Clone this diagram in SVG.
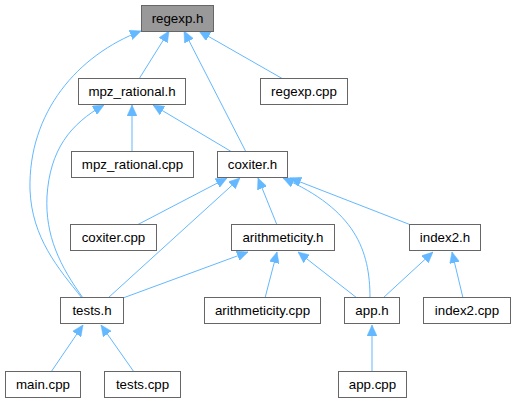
<svg xmlns="http://www.w3.org/2000/svg" width="515" height="403" viewBox="0 0 515 403">
<defs>
<style>
.n rect{fill:#fff;stroke:#666;stroke-width:1}
.n.hl rect{fill:#999}
.n text{font-family:"Liberation Sans",Arial,sans-serif;font-size:13.3px;fill:#000;text-anchor:middle}
#edges path{fill:none;stroke:#63b8ff;stroke-width:1;marker-end:url(#ah)}
</style>
<marker id="ah" markerUnits="userSpaceOnUse" markerWidth="11" markerHeight="10" viewBox="0 0 11 10" refX="11" refY="5" orient="auto">
<path d="M0,0 L11,5 L0,10 Z" fill="#63b8ff" stroke="#63b8ff" stroke-width="0.5"/>
</marker>
</defs>
<rect width="515" height="403" fill="#fff"/>
<g id="edges">
<path d="M139,79 L169,31"/>
<path d="M246,152 L184,31"/>
<path d="M283,79 L199,31"/>
<path d="M82,298 C58,268 32,238 30,190 C28,112 78,55 141,31"/>
<path d="M83,298 C60,266 45,236 47,196 C50,150 70,124 104,105"/>
<path d="M132,152 L132,105"/>
<path d="M232,152 L153,105"/>
<path d="M137,225 L227,178"/>
<path d="M108,298 L240,178"/>
<path d="M277,225 L258,178"/>
<path d="M370,298 C370,250 355,210 283,178"/>
<path d="M411,225 L290,178"/>
<path d="M123,298 L248,252"/>
<path d="M265,298 L277,252"/>
<path d="M357,298 L298,252"/>
<path d="M383,298 L433,252"/>
<path d="M463,298 L452,252"/>
<path d="M51,372 L83,325"/>
<path d="M134,372 L101,325"/>
<path d="M372,372 L372,325"/>
</g>
<g id="regexp_h" class="n hl"><rect x="141.5" y="5.5" width="72" height="26"/><text x="177.5" y="23">regexp.h</text></g>
<g id="mpz_rational_h" class="n"><rect x="78.5" y="78.5" width="107" height="26"/><text x="132" y="96">mpz_rational.h</text></g>
<g id="regexp_cpp" class="n"><rect x="260.5" y="78.5" width="87" height="26"/><text x="304" y="96">regexp.cpp</text></g>
<g id="mpz_rational_cpp" class="n"><rect x="71.5" y="151.5" width="122" height="26"/><text x="132.5" y="169">mpz_rational.cpp</text></g>
<g id="coxiter_h" class="n"><rect x="217.5" y="151.5" width="70" height="26"/><text x="252.5" y="169">coxiter.h</text></g>
<g id="coxiter_cpp" class="n"><rect x="70.5" y="224.5" width="86" height="26"/><text x="113.5" y="242">coxiter.cpp</text></g>
<g id="arithmeticity_h" class="n"><rect x="231.5" y="224.5" width="103" height="26"/><text x="283" y="242">arithmeticity.h</text></g>
<g id="index2_h" class="n"><rect x="409.5" y="224.5" width="71" height="26"/><text x="445" y="242">index2.h</text></g>
<g id="tests_h" class="n"><rect x="60.5" y="297.5" width="63" height="26"/><text x="92" y="315">tests.h</text></g>
<g id="arithmeticity_cpp" class="n"><rect x="204.5" y="297.5" width="116" height="26"/><text x="262.5" y="315">arithmeticity.cpp</text></g>
<g id="app_h" class="n"><rect x="344.5" y="297.5" width="55" height="26"/><text x="372" y="315">app.h</text></g>
<g id="index2_cpp" class="n"><rect x="423.5" y="297.5" width="87" height="26"/><text x="467" y="315">index2.cpp</text></g>
<g id="main_cpp" class="n"><rect x="5.5" y="371.5" width="75" height="26"/><text x="43" y="389">main.cpp</text></g>
<g id="tests_cpp" class="n"><rect x="104.5" y="371.5" width="76" height="26"/><text x="142.5" y="389">tests.cpp</text></g>
<g id="app_cpp" class="n"><rect x="338.5" y="371.5" width="68" height="26"/><text x="372.5" y="389">app.cpp</text></g>
</svg>
